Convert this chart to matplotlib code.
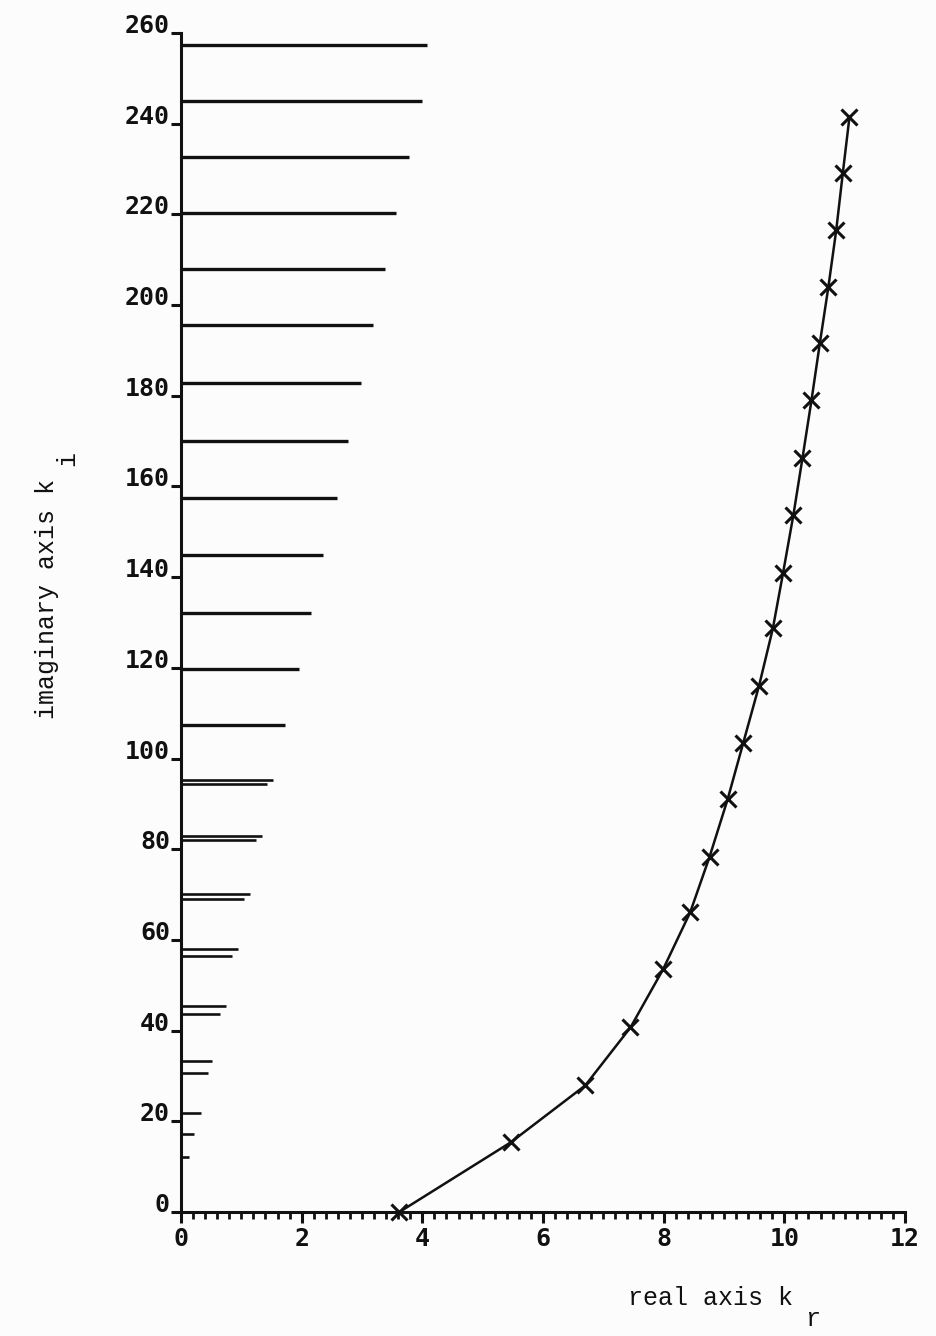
import matplotlib
matplotlib.use("Agg")
import matplotlib.pyplot as plt
from matplotlib.ticker import MultipleLocator

# ---- data ----
# root locus: real part k_r vs imaginary part k_i
kr = [3.62, 5.47, 6.70, 7.45, 7.99, 8.44, 8.76, 9.06, 9.32, 9.58,
      9.81, 9.98, 10.15, 10.30, 10.45, 10.59, 10.73, 10.86, 10.97, 11.08]
ki = [0.0, 15.4, 27.9, 40.7, 53.5, 66.1, 78.3, 91.0, 103.5, 116.0,
      128.7, 141.0, 153.7, 166.2, 179.0, 191.7, 204.0, 216.5, 229.2, 241.5]

# horizontal bars starting at k_r = 0 (upper single bars)
bar_single_y = [257.3, 245.0, 232.6, 220.3, 207.9, 195.6, 182.8, 170.1,
                157.4, 144.8, 132.2, 119.7, 107.4]
bar_single_len = [4.08, 3.99, 3.78, 3.56, 3.38, 3.18, 2.98, 2.77,
                  2.58, 2.36, 2.15, 1.96, 1.73]
# paired bars (upper and lower member of each pair)
bar_pair_upper_y = [95.3, 83.0, 70.1, 57.9, 45.5, 33.3]
bar_pair_upper_len = [1.53, 1.35, 1.14, 0.95, 0.75, 0.52]
bar_pair_lower_y = [94.3, 82.0, 69.0, 56.5, 43.7, 30.6]
bar_pair_lower_len = [1.42, 1.25, 1.05, 0.85, 0.64, 0.44]
# short bars near the origin
bar_low_y = [21.8, 17.1, 12.1]
bar_low_len = [0.33, 0.22, 0.13]

xticks = [0, 2, 4, 6, 8, 10, 12]
yticks = list(range(0, 261, 20))

W, H = 936, 1336
fig = plt.figure(figsize=(W / 100, H / 100), dpi=100, facecolor="#fcfcfc")
ax = fig.add_axes([181 / W, 1 - 1212 / H, (905 - 181) / W, (1212 - 33) / H])
ax.set_facecolor("#fcfcfc")

ink = "#111111"

ax.hlines(bar_single_y, 0, bar_single_len, color=ink, lw=2.4)
ax.hlines(bar_pair_upper_y, 0, bar_pair_upper_len, color=ink, lw=1.9)
ax.hlines(bar_pair_lower_y, 0, bar_pair_lower_len, color=ink, lw=1.9)
ax.hlines(bar_low_y, 0, bar_low_len, color=ink, lw=1.9)

ax.plot(kr, ki, color=ink, lw=1.8, marker="x", markersize=11,
        markeredgewidth=2.2, clip_on=False, zorder=5)

ax.set_xlim(0, 12)
ax.set_ylim(0, 260)
for s in ["top", "right"]:
    ax.spines[s].set_visible(False)
for s in ["left", "bottom"]:
    ax.spines[s].set_linewidth(2.2)
    ax.spines[s].set_color(ink)

ax.set_xticks(xticks)
ax.set_xticklabels([str(v) for v in xticks])
ax.xaxis.set_minor_locator(MultipleLocator(0.2))
ax.set_yticks(yticks)
ax.set_yticklabels([str(v) for v in yticks])

ax.tick_params(axis="x", which="major", direction="out", length=8, width=2.2,
               color=ink, pad=3)
ax.tick_params(axis="x", which="minor", direction="out", length=5, width=2.0,
               color=ink)
ax.tick_params(axis="y", which="major", direction="out", length=7, width=2.2,
               color=ink, pad=1)
for lbl in ax.get_xticklabels() + ax.get_yticklabels():
    lbl.set_fontfamily("DejaVu Sans Mono")
    lbl.set_fontsize(18)
    lbl.set_fontweight("bold")
    lbl.set_color(ink)
for lbl in ax.get_yticklabels():
    lbl.set_verticalalignment("baseline")

lab_font = dict(family="Liberation Mono", size=18, color=ink)
fig.text(628 / W, 1 - 1305 / H, "real axis k", ha="left", va="baseline",
         **lab_font)
fig.text(805 / W, 1 - 1326 / H, "r", ha="left", va="baseline", **lab_font)
fig.text(47 / W, 1 - 599 / H, "imaginary axis k", ha="center", va="center",
         rotation=90, **lab_font)
fig.text(67 / W, 1 - 458 / H, "i", ha="center", va="center", rotation=90,
         **lab_font)

fig.savefig("out.png", dpi=100, facecolor=fig.get_facecolor())
